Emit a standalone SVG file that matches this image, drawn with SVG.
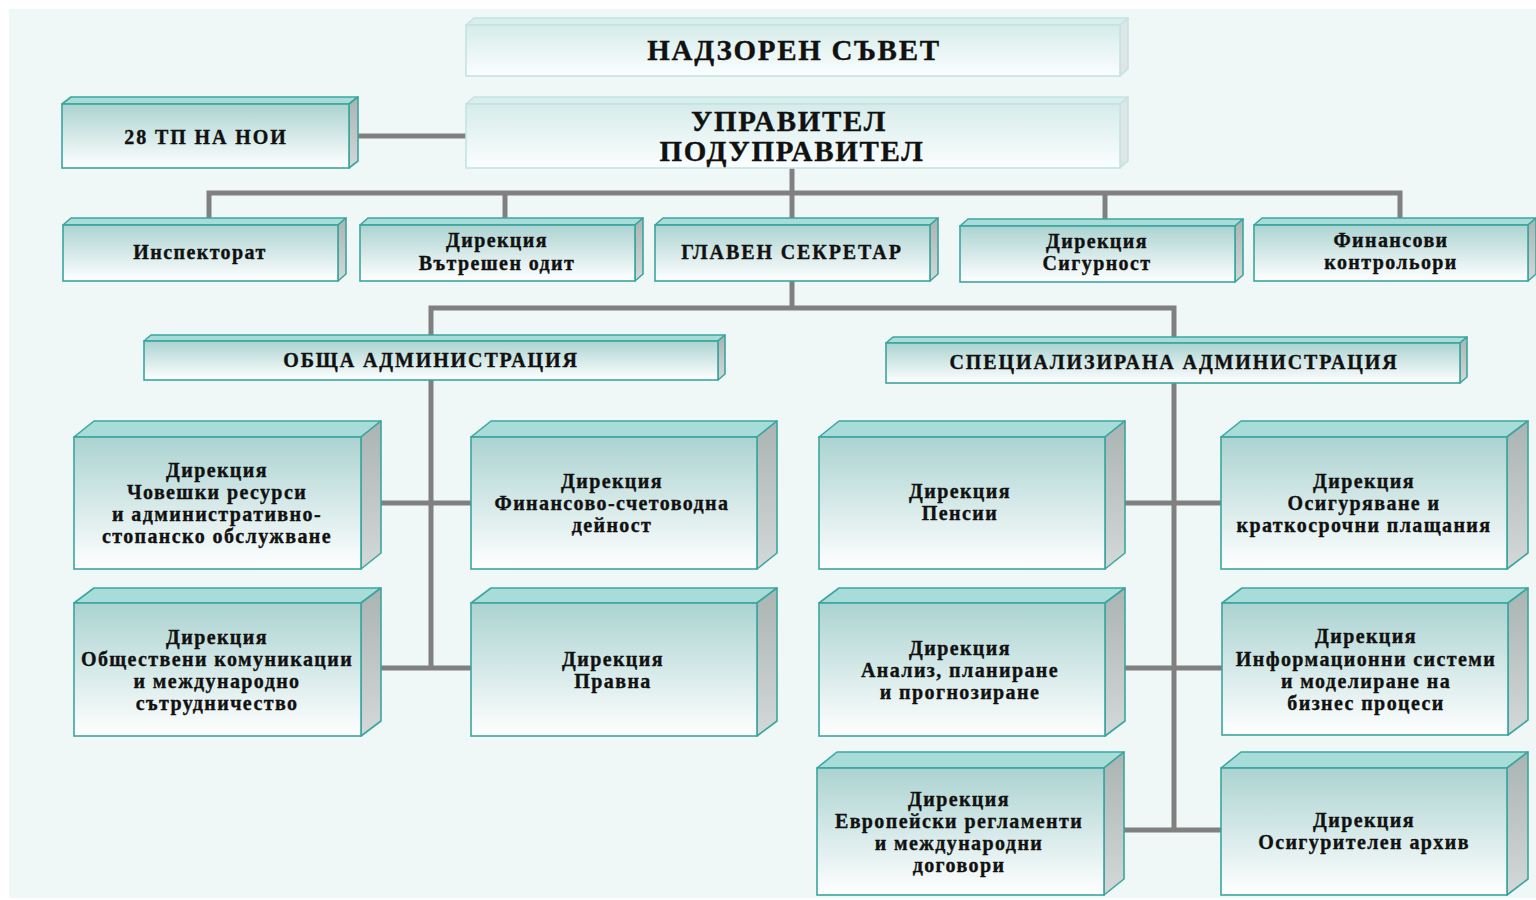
<svg xmlns="http://www.w3.org/2000/svg" width="1536" height="900" viewBox="0 0 1536 900">
<defs>
<linearGradient id="gf" x1="0" y1="0" x2="0" y2="1">
<stop offset="0" stop-color="#abd3d1"/><stop offset="1" stop-color="#ffffff"/>
</linearGradient>
<linearGradient id="gfl" x1="0" y1="0" x2="0" y2="1">
<stop offset="0" stop-color="#d6ecea"/><stop offset="1" stop-color="#fbfefe"/>
</linearGradient>
<linearGradient id="gs" x1="0" y1="0" x2="0" y2="1">
<stop offset="0" stop-color="#a9b4b3"/><stop offset="1" stop-color="#d4d8d8"/>
</linearGradient>
<style>
.front{fill:url(#gf);stroke:#3aa69f;stroke-width:1.6}
.top{fill:#a8dcd8;stroke:#3aa69f;stroke-width:1.6;stroke-linejoin:round}
.side{fill:url(#gs);stroke:#3aa69f;stroke-width:1.6;stroke-linejoin:round}
.pale .front{fill:url(#gfl);stroke:#c3e4e1}
.pale .top{fill:#d9efed;stroke:#c3e4e1}
.pale .side{fill:#dfe5e5;stroke:#c3e4e1}
text{font-family:"Liberation Serif","Times New Roman",serif;font-weight:bold;fill:#111;stroke:#111;stroke-width:0.35;text-anchor:middle;font-size:20px;letter-spacing:1.4px}
.up{letter-spacing:1.9px}
.big{font-size:29px;letter-spacing:1.7px}
.conn{stroke:#808080;stroke-width:5;fill:none}
</style>
</defs>
<rect x="0" y="0" width="1536" height="900" fill="#ffffff"/>
<rect x="9" y="9" width="1527" height="889" fill="#eff8f7"/>

<g id="connectors" class="conn">
<line x1="358" y1="136" x2="466" y2="136"/>
<line x1="792" y1="168" x2="792" y2="220"/>
<polyline points="209,218 209,193 1400,193 1400,218"/>
<line x1="505" y1="193" x2="505" y2="218"/>
<line x1="1105" y1="193" x2="1105" y2="219"/>
<line x1="792" y1="281" x2="792" y2="308"/>
<polyline points="431,336 431,308 1174,308 1174,338"/>
<line x1="431" y1="380" x2="431" y2="670"/>
<line x1="361" y1="503" x2="471" y2="503"/>
<line x1="361" y1="668" x2="471" y2="668"/>
<line x1="1174" y1="383" x2="1174" y2="832"/>
<line x1="1105" y1="503" x2="1221" y2="503"/>
<line x1="1105" y1="668" x2="1222" y2="668"/>
<line x1="1104" y1="830" x2="1221" y2="830"/>
</g>

<g id="nadzoren" class="pale">
<polygon class="top" points="466,25 474,18 1128,18 1120,25"/>
<polygon class="side" points="1120,25 1128,18 1128,69 1120,76"/>
<rect class="front" x="466" y="25" width="654" height="51"/>
<text class="big" x="794" y="60">НАДЗОРЕН СЪВЕТ</text>
</g>

<g id="upravitel" class="pale">
<polygon class="top" points="466,104 474,97 1128,97 1120,104"/>
<polygon class="side" points="1120,104 1128,97 1128,161 1120,168"/>
<rect class="front" x="466" y="104" width="654" height="64"/>
<text class="big" x="789" y="131">УПРАВИТЕЛ</text>
<text class="big" x="792" y="161">ПОДУПРАВИТЕЛ</text>
</g>

<g id="tp-noi">
<polygon class="top" points="62,104 71,97 358,97 349,104"/>
<polygon class="side" points="349,104 358,97 358,161 349,168"/>
<rect class="front" x="62" y="104" width="287" height="64"/>
<text class="up" x="206" y="144">28 ТП НА НОИ</text>
</g>

<g id="inspektorat">
<polygon class="top" points="63,225 71,218 346,218 338,225"/>
<polygon class="side" points="338,225 346,218 346,274 338,281"/>
<rect class="front" x="63" y="225" width="275" height="56"/>
<text x="200" y="259">Инспекторат</text>
</g>

<g id="vatreshen-odit">
<polygon class="top" points="360,225 368,218 643,218 635,225"/>
<polygon class="side" points="635,225 643,218 643,274 635,281"/>
<rect class="front" x="360" y="225" width="275" height="56"/>
<text x="497" y="247">Дирекция</text>
<text x="497" y="270">Вътрешен одит</text>
</g>

<g id="glaven-sekretar">
<polygon class="top" points="655,225 663,218 938,218 930,225"/>
<polygon class="side" points="930,225 938,218 938,274 930,281"/>
<rect class="front" x="655" y="225" width="275" height="56"/>
<text class="up" x="792" y="259">ГЛАВЕН СЕКРЕТАР</text>
</g>

<g id="sigurnost">
<polygon class="top" points="960,226 968,219 1243,219 1235,226"/>
<polygon class="side" points="1235,226 1243,219 1243,275 1235,282"/>
<rect class="front" x="960" y="226" width="275" height="56"/>
<text x="1097" y="248">Дирекция</text>
<text x="1097" y="270">Сигурност</text>
</g>

<g id="finansovi-kontrolori">
<polygon class="top" points="1254,225 1262,218 1536,218 1528,225"/>
<polygon class="side" points="1528,225 1536,218 1536,274 1528,281"/>
<rect class="front" x="1254" y="225" width="274" height="56"/>
<text x="1391" y="247">Финансови</text>
<text x="1391" y="269">контрольори</text>
</g>

<g id="obshta-administracia">
<polygon class="top" points="144,341 151,335 725,335 718,341"/>
<polygon class="side" points="718,341 725,335 725,374 718,380"/>
<rect class="front" x="144" y="341" width="574" height="39"/>
<text class="up" x="431" y="367">ОБЩА АДМИНИСТРАЦИЯ</text>
</g>

<g id="specializirana-administracia">
<polygon class="top" points="886,343 893,337 1467,337 1460,343"/>
<polygon class="side" points="1460,343 1467,337 1467,377 1460,383"/>
<rect class="front" x="886" y="343" width="574" height="40"/>
<text class="up" x="1174" y="369">СПЕЦИАЛИЗИРАНА АДМИНИСТРАЦИЯ</text>
</g>

<g id="choveshki-resursi">
<polygon class="top" points="74,437 94,421 381,421 361,437"/>
<polygon class="side" points="361,437 381,421 381,553 361,569"/>
<rect class="front" x="74" y="437" width="287" height="132"/>
<text x="217" y="477">Дирекция</text>
<text x="217" y="499">Човешки ресурси</text>
<text x="217" y="521">и административно-</text>
<text x="217" y="543">стопанско обслужване</text>
</g>

<g id="obshtestveni-komunikacii">
<polygon class="top" points="74,603 94,588 381,588 361,603"/>
<polygon class="side" points="361,603 381,588 381,721 361,736"/>
<rect class="front" x="74" y="603" width="287" height="133"/>
<text x="217" y="644">Дирекция</text>
<text x="217" y="666">Обществени комуникации</text>
<text x="217" y="688">и международно</text>
<text x="217" y="710">сътрудничество</text>
</g>

<g id="finansovo-schetovodna">
<polygon class="top" points="471,437 491,421 777,421 757,437"/>
<polygon class="side" points="757,437 777,421 777,553 757,569"/>
<rect class="front" x="471" y="437" width="286" height="132"/>
<text x="612" y="488">Дирекция</text>
<text x="612" y="510">Финансово-счетоводна</text>
<text x="612" y="532">дейност</text>
</g>

<g id="pravna">
<polygon class="top" points="471,603 491,588 777,588 757,603"/>
<polygon class="side" points="757,603 777,588 777,721 757,736"/>
<rect class="front" x="471" y="603" width="286" height="133"/>
<text x="613" y="666">Дирекция</text>
<text x="613" y="688">Правна</text>
</g>

<g id="pensii">
<polygon class="top" points="819,437 839,421 1125,421 1105,437"/>
<polygon class="side" points="1105,437 1125,421 1125,553 1105,569"/>
<rect class="front" x="819" y="437" width="286" height="132"/>
<text x="960" y="498">Дирекция</text>
<text x="960" y="520">Пенсии</text>
</g>

<g id="osiguryavane">
<polygon class="top" points="1221,437 1241,421 1528,421 1507,437"/>
<polygon class="side" points="1507,437 1528,421 1528,553 1507,569"/>
<rect class="front" x="1221" y="437" width="286" height="132"/>
<text x="1364" y="488">Дирекция</text>
<text x="1364" y="510">Осигуряване и</text>
<text x="1364" y="532">краткосрочни плащания</text>
</g>

<g id="analiz">
<polygon class="top" points="819,603 839,588 1125,588 1105,603"/>
<polygon class="side" points="1105,603 1125,588 1125,721 1105,736"/>
<rect class="front" x="819" y="603" width="286" height="133"/>
<text x="960" y="655">Дирекция</text>
<text x="960" y="677">Анализ, планиране</text>
<text x="960" y="699">и прогнозиране</text>
</g>

<g id="informacionni-sistemi">
<polygon class="top" points="1222,603 1242,588 1528,588 1508,603"/>
<polygon class="side" points="1508,603 1528,588 1528,720 1508,735"/>
<rect class="front" x="1222" y="603" width="286" height="132"/>
<text x="1366" y="643">Дирекция</text>
<text x="1366" y="666">Информационни системи</text>
<text x="1366" y="688">и моделиране на</text>
<text x="1366" y="710">бизнес процеси</text>
</g>

<g id="evropeiski-reglamenti">
<polygon class="top" points="817,768 837,752 1124,752 1104,768"/>
<polygon class="side" points="1104,768 1124,752 1124,879 1104,895"/>
<rect class="front" x="817" y="768" width="287" height="127"/>
<text x="959" y="806">Дирекция</text>
<text x="959" y="828">Европейски регламенти</text>
<text x="959" y="850">и международни</text>
<text x="959" y="872">договори</text>
</g>

<g id="osiguritelen-arhiv">
<polygon class="top" points="1221,768 1241,752 1528,752 1507,768"/>
<polygon class="side" points="1507,768 1528,752 1528,879 1507,895"/>
<rect class="front" x="1221" y="768" width="286" height="127"/>
<text x="1364" y="827">Дирекция</text>
<text x="1364" y="849">Осигурителен архив</text>
</g>
</svg>
